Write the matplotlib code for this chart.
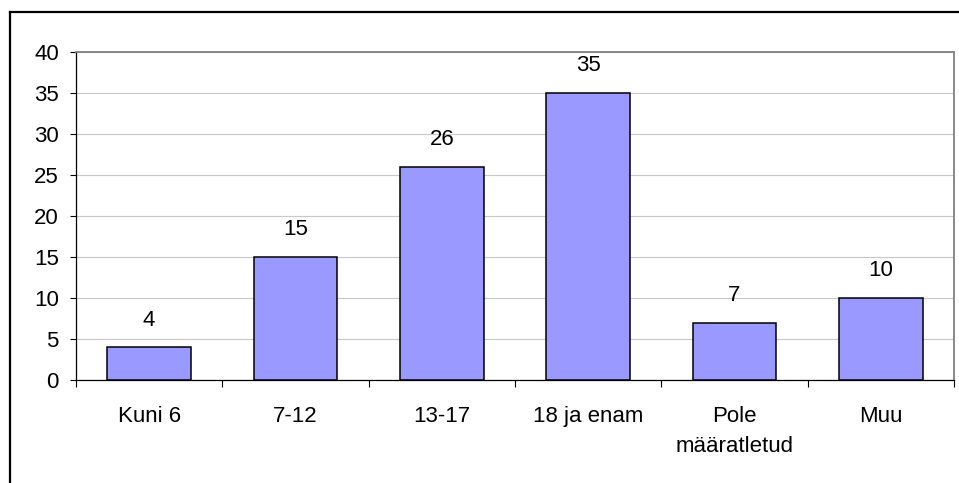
import matplotlib
matplotlib.use("Agg")
import matplotlib.pyplot as plt
from matplotlib.lines import Line2D
import numpy as np

categories = ["Kuni 6", "7-12", "13-17", "18 ja enam", "Pole\nmääratletud", "Muu"]
values = [4, 15, 26, 35, 7, 10]
yticks = [0, 5, 10, 15, 20, 25, 30, 35, 40]

plt.rcParams['font.family'] = ['Liberation Sans', 'DejaVu Sans']
FS = 16
W, H = 959, 483
fig = plt.figure(figsize=(W / 100, H / 100), dpi=100)
ax = fig.add_axes([76 / W, 1 - 380 / H, (954 - 76) / W, (380 - 52) / H])

x = np.arange(len(categories))
bars = ax.bar(x, values, width=0.57, color="#9999FF", edgecolor="black", linewidth=1.1, zorder=3)
for xi, v in zip(x, values):
    ax.annotate(str(v), (xi, v), xytext=(0, 12), textcoords="offset points",
                ha="center", va="bottom", fontsize=FS)

ax.set_xlim(-0.5, len(categories) - 0.5)
ax.set_ylim(0, 40)
ax.set_yticks(yticks)
ax.set_yticklabels([str(t) for t in yticks], fontsize=FS)
ax.tick_params(axis="y", direction="out", length=4.3, width=0.8, pad=8, colors="black")
ax.set_xticks(x)
ax.set_xticklabels(categories, fontsize=FS, linespacing=1.6)
ax.tick_params(axis="x", which="major", length=0, pad=18.5)
ax.set_xticks(np.arange(-0.5, len(categories)), minor=True)
ax.tick_params(axis="x", which="minor", direction="out", length=5, width=0.8)

ax.grid(axis="y", color="#c8c8c8", linewidth=0.8, zorder=0)
ax.set_axisbelow(True)
for s in ["left", "bottom"]:
    ax.spines[s].set_color("black")
    ax.spines[s].set_linewidth(0.9)
for s in ["top", "right"]:
    ax.spines[s].set_color("#808080")
    ax.spines[s].set_linewidth(1.3)

# outer chart border (left and top visible)
fig.add_artist(Line2D([9.5 / W, 9.5 / W], [0, 1 - 12 / H], transform=fig.transFigure, color="black", linewidth=1.6))
fig.add_artist(Line2D([9.5 / W, 1], [1 - 12 / H, 1 - 12 / H], transform=fig.transFigure, color="black", linewidth=1.6))

fig.savefig("out.png", dpi=100)
